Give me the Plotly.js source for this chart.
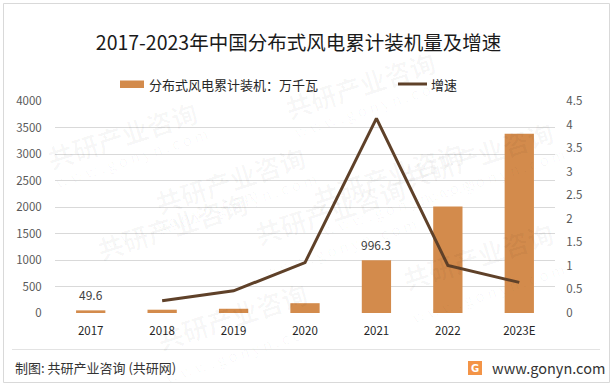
<!DOCTYPE html>
<html>
<head>
<meta charset="utf-8">
<script src="https://cdn.plot.ly/plotly-3.0.1.min.js"></script>
<style>html,body{margin:0;padding:0;background:#fff;}#chart{width:613px;height:386px;}</style>
</head>
<body>
<div id="chart"></div>
<script>
// ---- data ----
var categories = ['2017', '2018', '2019', '2020', '2021', '2022', '2023E'];
var capacity = [49.6, 62, 80, 185, 996.3, 2010, 3380];           // 万千瓦
var growthCats = ['2018', '2019', '2020', '2021', '2022', '2023E'];
var growth = [0.26, 0.47, 1.07, 4.13, 1.01, 0.65];               // 增速
var labelledIdx = [0, 4];                                        // bars with value labels
var leftTicks = [0, 500, 1000, 1500, 2000, 2500, 3000, 3500, 4000];
var rightTicks = [0, 0.5, 1, 1.5, 2, 2.5, 3, 3.5, 4, 4.5];
var titleText = '2017-2023年中国分布式风电累计装机量及增速';
var barName = '分布式风电累计装机：万千瓦';
var lineName = '增速';
var sourceText = '制图: 共研产业咨询 (共研网)';
var siteText = 'www.gonyn.com';

// ---- layout helpers (pixel -> paper) ----
var L = 55, R = 555, T = 101, B = 313;
function px(x) { return (x - L) / (R - L); }
function py(y) { return (B - y) / (B - T); }

var FONT = '"Noto Sans CJK SC", "Noto Sans", sans-serif';
var barColor = '#D38B4C';
var lineColor = '#5F4129';
var tickColor = '#595959';

var traces = [
  {
    type: 'bar', x: categories, y: capacity, name: barName,
    marker: { color: barColor }, showlegend: false, hoverinfo: 'x+y'
  },
  {
    type: 'scatter', mode: 'lines', x: growthCats, y: growth, name: lineName,
    yaxis: 'y2', line: { color: lineColor, width: 3 }, showlegend: false
  }
];

var annotations = [];
labelledIdx.forEach(function (i) {
  annotations.push({
    x: i, y: capacity[i], xref: 'x', yref: 'y',
    text: String(capacity[i]), showarrow: false, yanchor: 'bottom', yshift: 5,
    font: { family: FONT, size: 12, color: '#404040' }
  });
});

// watermarks
var wm = [[230, 135], [470, 175], [90, 225], [330, 255], [560, 110], [150, 360], [560, 300], [40, 90], [360, 40]];
wm.forEach(function (p) {
  annotations.push({
    xref: 'paper', yref: 'paper', x: px(p[0]), y: py(p[1]), showarrow: false,
    text: '<b>共研产业咨询</b>', textangle: -18,
    font: { family: FONT, size: 26, color: 'rgba(0,0,0,0.03)' }
  });
  annotations.push({
    xref: 'paper', yref: 'paper', x: px(p[0] + 10), y: py(p[1] + 30), showarrow: false,
    text: 'w w w . g o n y n . c o m', textangle: -18,
    font: { family: FONT, size: 15, color: 'rgba(0,0,0,0.03)' }
  });
});

// legend texts
annotations.push({
  xref: 'paper', yref: 'paper', x: px(147), y: py(84), xanchor: 'left', yanchor: 'middle',
  showarrow: false, text: barName, font: { family: FONT, size: 13, color: '#262626' }
});
annotations.push({
  xref: 'paper', yref: 'paper', x: px(429), y: py(84), xanchor: 'left', yanchor: 'middle',
  showarrow: false, text: lineName, font: { family: FONT, size: 13, color: '#262626' }
});
// footer
annotations.push({
  xref: 'paper', yref: 'paper', x: px(13), y: py(367), xanchor: 'left', yanchor: 'middle',
  showarrow: false, text: sourceText, font: { family: FONT, size: 13, color: '#333333' }
});
annotations.push({
  xref: 'paper', yref: 'paper', x: px(490), y: py(367), xanchor: 'left', yanchor: 'middle',
  showarrow: false, text: siteText, font: { family: FONT, size: 14.5, color: '#333333' }
});
annotations.push({
  xref: 'paper', yref: 'paper', x: px(475), y: py(368), xanchor: 'center', yanchor: 'middle',
  showarrow: false, text: '<b>G</b>', font: { family: 'DejaVu Sans', size: 10, color: '#ffffff' }
});

var shapes = [
  // outer border
  { type: 'rect', xref: 'paper', yref: 'paper', x0: px(3.5), x1: px(609.5), y0: py(3.5), y1: py(382.5),
    line: { color: '#D9D9D9', width: 1 }, fillcolor: 'rgba(0,0,0,0)', layer: 'below' },
  // footer separator
  { type: 'line', xref: 'paper', yref: 'paper', x0: px(12), x1: px(600), y0: py(349.5), y1: py(349.5),
    line: { color: '#E3E3E3', width: 1 } },
  // legend swatches
  { type: 'rect', xref: 'paper', yref: 'paper', x0: px(120), x1: px(144), y0: py(80.5), y1: py(88),
    line: { width: 0 }, fillcolor: barColor },
  { type: 'line', xref: 'paper', yref: 'paper', x0: px(398), x1: px(427), y0: py(84), y1: py(84),
    line: { color: lineColor, width: 3 } },
  // logo
  { type: 'rect', xref: 'paper', yref: 'paper', x0: px(468), x1: px(482), y0: py(361), y1: py(375),
    line: { width: 0 }, fillcolor: '#F39447' }
];

var layout = {
  width: 613, height: 386,
  margin: { l: L, r: 613 - R, t: T, b: 386 - B, pad: 0 },
  paper_bgcolor: '#ffffff', plot_bgcolor: 'rgba(0,0,0,0)',
  font: { family: FONT, size: 11, color: tickColor },
  title: {
    text: titleText, x: 0.487, xanchor: 'center', xref: 'paper',
    y: 1 - 43 / 386, yref: 'container', yanchor: 'middle',
    font: { family: FONT, size: 19.5, color: '#1a1a1a' }
  },
  showlegend: false,
  bargap: 0.59,
  xaxis: {
    type: 'category', categoryorder: 'array', categoryarray: categories,
    range: [-0.5, categories.length - 0.5], autorange: false,
    showgrid: false, zeroline: false, showline: false,
    ticks: 'outside', ticklen: 7, tickcolor: 'rgba(0,0,0,0)',
    tickfont: { family: FONT, size: 11.5, color: '#262626' }
  },
  yaxis: {
    range: [0, 4000], autorange: false, tickvals: leftTicks, ticktext: leftTicks.map(String),
    showgrid: true, gridcolor: '#D9D9D9', gridwidth: 1, zeroline: false, showline: false,
    ticks: 'outside', ticklen: 10, tickcolor: 'rgba(0,0,0,0)',
    tickfont: { family: FONT, size: 11.5, color: tickColor }
  },
  yaxis2: {
    range: [0, 4.5], autorange: false, tickvals: rightTicks, ticktext: rightTicks.map(String),
    overlaying: 'y', side: 'right', showgrid: false, zeroline: false, showline: false,
    ticks: 'outside', ticklen: 8, tickcolor: 'rgba(0,0,0,0)',
    tickfont: { family: FONT, size: 11.5, color: tickColor }
  },
  annotations: annotations,
  shapes: shapes
};

Plotly.newPlot('chart', traces, layout, { displayModeBar: false, staticPlot: true });
</script>
</body>
</html>
